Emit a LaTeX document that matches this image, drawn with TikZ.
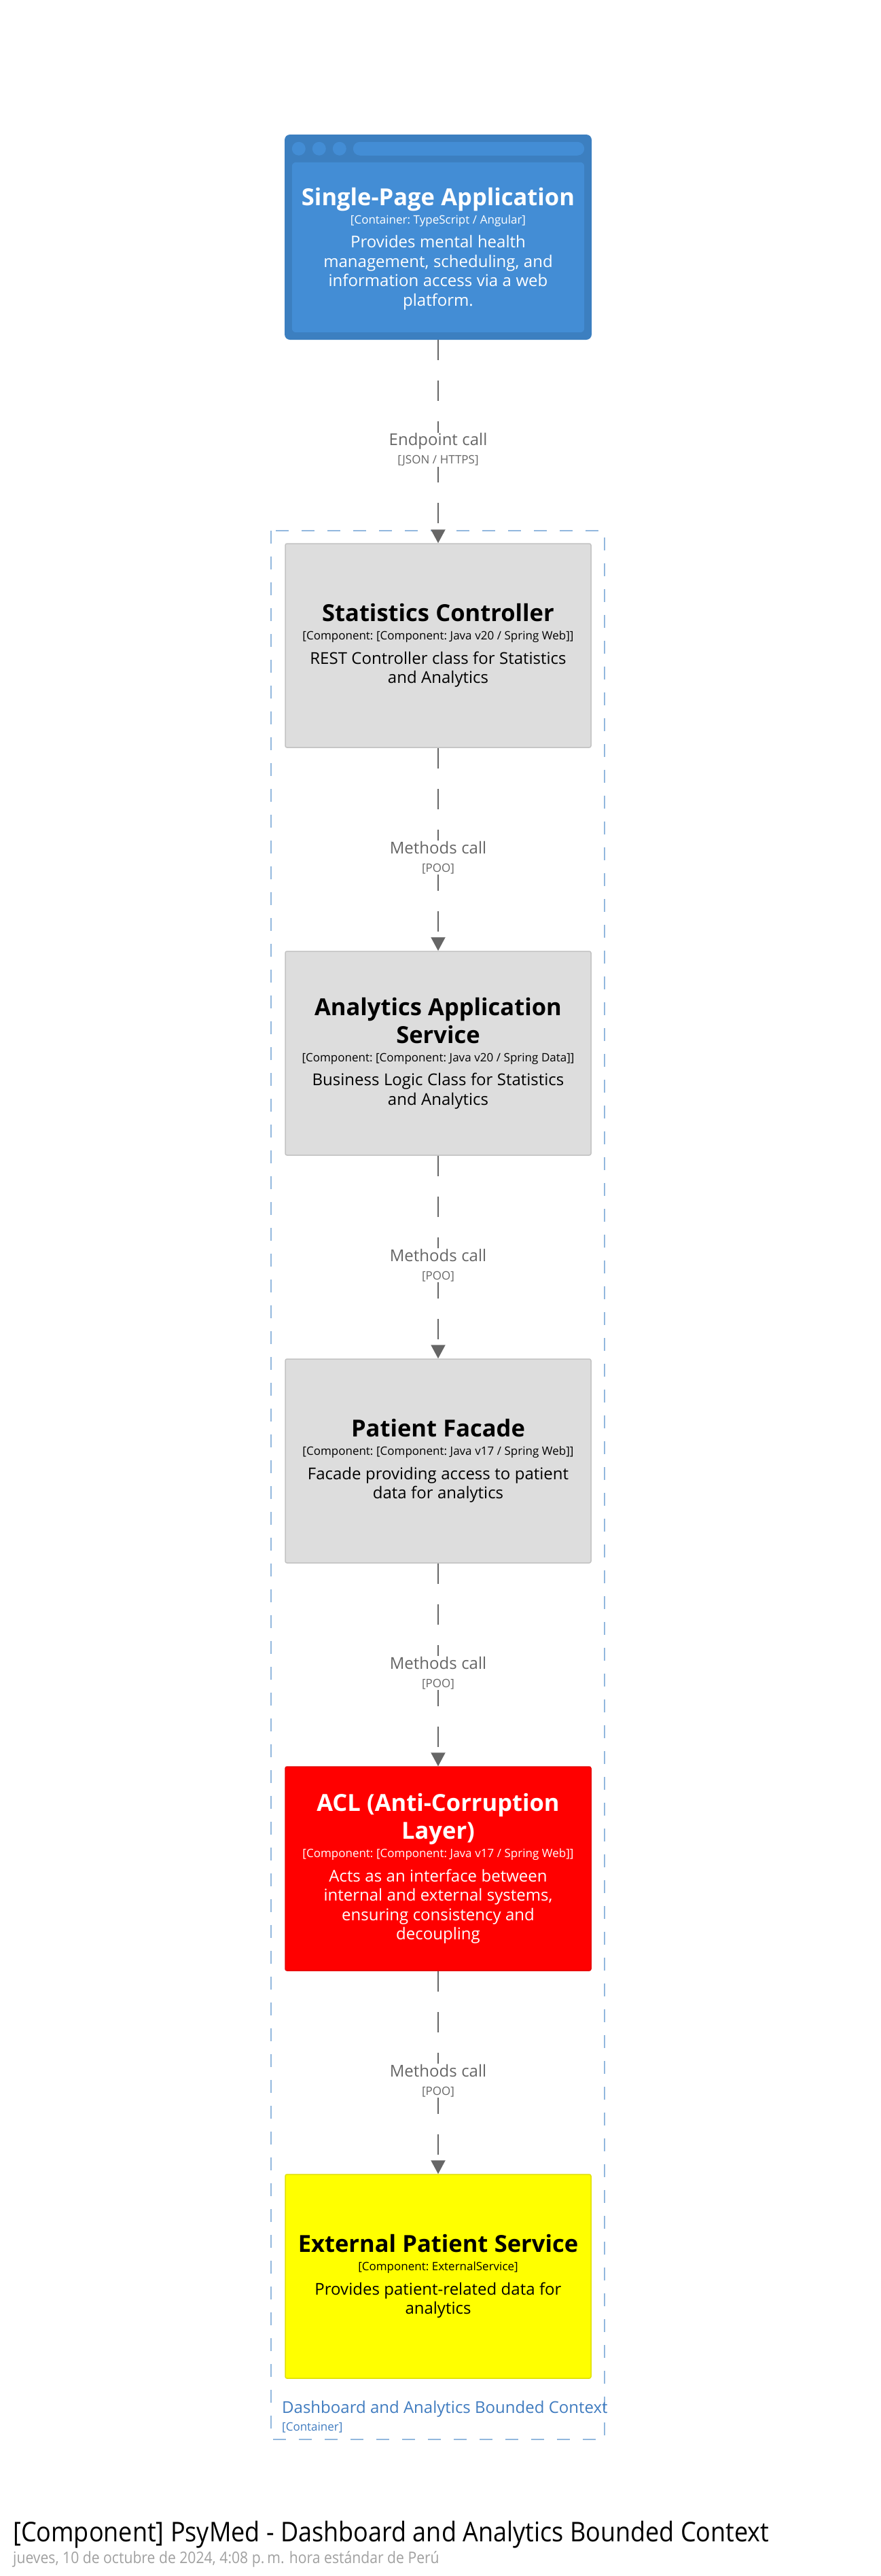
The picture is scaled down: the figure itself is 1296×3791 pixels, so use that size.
\documentclass[tikz,border=0pt]{standalone}
\usepackage{fontspec}
\setmainfont{Open Sans}
\newfontfamily\captionfont[FakeStretch=0.9]{Open Sans}
\usetikzlibrary{arrows.meta, positioning}

\definecolor{spaouter}{HTML}{3C7FC0}
\definecolor{spainner}{HTML}{438DD5}
\definecolor{compgray}{HTML}{DDDDDD}
\definecolor{compedge}{HTML}{C2C2C2}
\definecolor{aclred}{HTML}{FF0000}
\definecolor{extyellow}{HTML}{FFFF00}
\definecolor{relgray}{HTML}{666666}
\definecolor{boundblue}{HTML}{93B8DE}
\definecolor{boundtext}{HTML}{3F7BBF}
\definecolor{dategray}{HTML}{A0A0A0}

% espacio fijo del tamano de la fuente
\newcommand{\natspace}{\spaceskip=0.27em\xspaceskip=0.27em\relax}
% texto de un componente: titulo, estereotipo, descripcion
\newcommand{\comptext}[3]{%
  {\fontsize{34.5pt}{41pt}\selectfont\bfseries\natspace #1\par}%
  {\fontsize{17pt}{27pt}\selectfont\natspace #2\par}%
  \vspace{7pt}%
  {\fontsize{24pt}{28.5pt}\selectfont\natspace #3\par}}
% texto de una relacion
\newcommand{\reltext}[2]{%
  {\fontsize{24pt}{27pt}\selectfont\natspace #1\par}%
  {\fontsize{17pt}{27pt}\selectfont\natspace #2\par}}

\begin{document}
\begin{tikzpicture}[
    x=1pt, y=-1pt,
    comp/.style = {draw=compedge, fill=compgray, line width=1.5pt, rounded corners=2.5pt,
                   minimum width=450pt, minimum height=300pt, text width=440pt, align=center, inner sep=0pt},
    spabox/.style = {fill=spaouter, rounded corners=8pt, minimum width=452pt, minimum height=302pt, inner sep=0pt},
    rel/.style = {draw=relgray, line width=2pt, dash pattern=on 30pt off 30pt, -{Triangle[width=21pt,length=20pt]}},
    rellabel/.style = {fill=white, text=relgray, text width=230pt, align=center, inner sep=1pt, yshift=-12pt},
    boundary/.style = {draw=boundblue, line width=2pt, dash pattern=on 19pt off 19pt}
    ]
    \useasboundingbox (0,0) rectangle (1296,3791);

    % --- CONTENEDOR ---
    \coordinate (bnw) at (399,781);
    \coordinate (bse) at (890,3590);
    \draw[boundary] (bnw) rectangle (bse);
    \node[anchor=base west, text=boundtext, font=\fontsize{24pt}{28pt}\selectfont, inner sep=0pt] (bname) at (415,3551) {Dashboard and Analytics Bounded Context};
    \node[anchor=base west, text=boundtext, font=\fontsize{17pt}{20pt}\selectfont, inner sep=0pt] (bkind) at (415,3577) {[Container]};

    % --- SINGLE-PAGE APPLICATION ---
    \node[spabox] (spa) at (645,349) {};
    \fill[spainner, rounded corners=6pt] ([shift={(11,41)}]spa.north west) rectangle ([shift={(-11,-11)}]spa.south east);
    \foreach \dx in {21,51,81}
        \fill[spainner] ([shift={(\dx,21)}]spa.north west) circle (10pt);
    \fill[spainner, rounded corners=10pt] ([shift={(101,11)}]spa.north west) rectangle ([shift={(-11,31)}]spa.north east);
    \node[text=white, text width=440pt, align=center, inner sep=0pt, yshift=-17pt] (spatxt) at (spa.center)
        {\comptext{Single-Page Application}{[Container: TypeScript / Angular]}{Provides mental health\\management, scheduling, and\\information access via a web\\platform.}};

    % --- COMPONENTES ---
    \node[comp] (stats) at (645,950)
        {\comptext{Statistics Controller}{[Component: [Component: Java v20 / Spring Web]]}{REST Controller class for Statistics\\and Analytics}};
    \node[comp] (appsvc) at (645,1550)
        {\comptext{Analytics Application\\Service}{[Component: [Component: Java v20 / Spring Data]]}{Business Logic Class for Statistics\\and Analytics}};
    \node[comp] (facade) at (645,2150)
        {\comptext{Patient Facade}{[Component: [Component: Java v17 / Spring Web]]}{Facade providing access to patient\\data for analytics}};
    \node[comp, fill=aclred, draw=aclred!90!black, text=white] (acl) at (645,2750)
        {\comptext{ACL (Anti-Corruption\\Layer)}{[Component: [Component: Java v17 / Spring Web]]}{Acts as an interface between\\internal and external systems,\\ensuring consistency and\\decoupling}};
    \node[comp, fill=extyellow, draw=extyellow!88!black] (extsvc) at (645,3350)
        {\comptext{External Patient Service}{[Component: ExternalService]}{Provides patient-related data for\\analytics}};

    % --- RELACIONES ---
    \draw[rel] (spa) -- node[rellabel] (lbl1) {\reltext{Endpoint call}{[JSON / HTTPS]}} (stats);
    \draw[rel] (stats) -- node[rellabel] (lbl2) {\reltext{Methods call}{[POO]}} (appsvc);
    \draw[rel] (appsvc) -- node[rellabel] (lbl3) {\reltext{Methods call}{[POO]}} (facade);
    \draw[rel] (facade) -- node[rellabel] (lbl4) {\reltext{Methods call}{[POO]}} (acl);
    \draw[rel] (acl) -- node[rellabel] (lbl5) {\reltext{Methods call}{[POO]}} (extsvc);

    % --- TITULO ---
    \node[anchor=base west, inner sep=0pt, font=\captionfont\fontsize{40pt}{42pt}\selectfont] (title) at (19,3740)
        {[Component] PsyMed - Dashboard and Analytics Bounded Context};
    \node[anchor=base west, inner sep=0pt, text=dategray, font=\captionfont\fontsize{23.5pt}{26pt}\selectfont] (date) at (19,3772)
        {jueves, 10 de octubre de 2024, 4:08 p.\,m. hora estándar de Perú};
\end{tikzpicture}
\end{document}
